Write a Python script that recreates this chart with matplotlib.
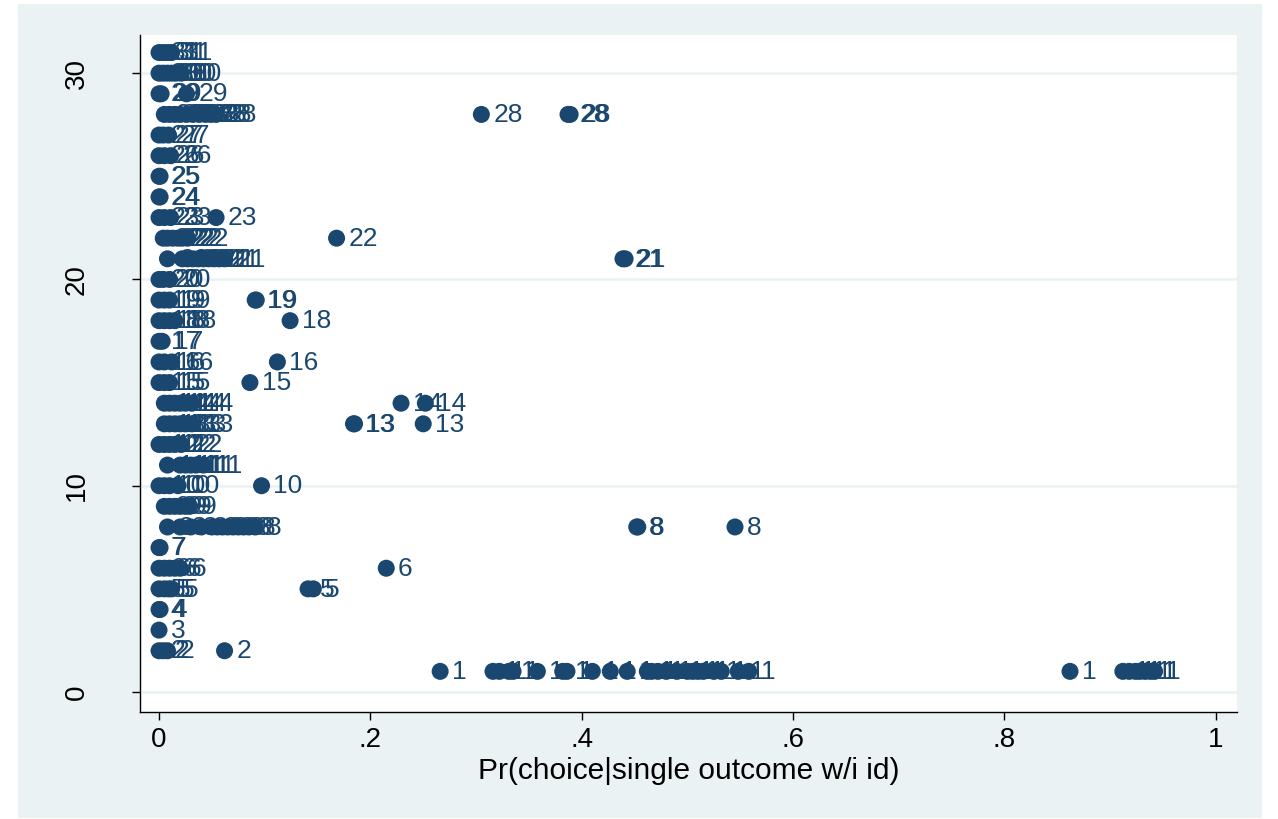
import matplotlib
matplotlib.use("Agg")
import matplotlib.pyplot as plt
from matplotlib.patches import Rectangle

plt.rcParams['font.family'] = ['Liberation Sans', 'DejaVu Sans']

# Pr(choice|single outcome w/i id) values, per id
x_id01 = [0.266, 0.316, 0.322, 0.331, 0.335, 0.358, 0.382, 0.386, 0.41, 0.427, 0.443,
          0.462, 0.466, 0.472, 0.48, 0.49, 0.5, 0.505, 0.51, 0.515, 0.525, 0.532,
          0.548, 0.558, 0.862, 0.912, 0.918, 0.924, 0.928, 0.933, 0.938, 0.942]
x_id02 = [0.0, 0.004, 0.008, 0.062]
x_id03 = [0.0]
x_id04 = [0.0, 0.001]
x_id05 = [0.0, 0.005, 0.009, 0.012, 0.141, 0.146]
x_id06 = [0.0, 0.005, 0.01, 0.015, 0.02, 0.215]
x_id07 = [0.0, 0.001]
x_id08 = [0.008, 0.02, 0.03, 0.04, 0.05, 0.055, 0.06, 0.065, 0.07, 0.075, 0.08,
          0.085, 0.091, 0.452, 0.453, 0.545]
x_id09 = [0.005, 0.01, 0.015, 0.02, 0.025, 0.029]
x_id10 = [0.0, 0.005, 0.01, 0.018, 0.097]
x_id11 = [0.008, 0.02, 0.025, 0.03, 0.035, 0.042]
x_id12 = [0.0, 0.005, 0.01, 0.015, 0.021]
x_id13 = [0.005, 0.01, 0.015, 0.02, 0.025, 0.031, 0.184, 0.185, 0.25]
x_id14 = [0.005, 0.01, 0.015, 0.02, 0.025, 0.031, 0.229, 0.252]
x_id15 = [0.0, 0.005, 0.01, 0.086]
x_id16 = [0.0, 0.005, 0.012, 0.112]
x_id17 = [0.0, 0.003]
x_id18 = [0.0, 0.005, 0.01, 0.015, 0.124]
x_id19 = [0.0, 0.005, 0.01, 0.091, 0.092]
x_id20 = [0.0, 0.004, 0.01]
x_id21 = [0.008, 0.022, 0.027, 0.032, 0.037, 0.042, 0.047, 0.052, 0.057, 0.062,
          0.439, 0.441]
x_id22 = [0.004, 0.008, 0.013, 0.018, 0.022, 0.027, 0.168]
x_id23 = [0.0, 0.005, 0.011, 0.054]
x_id24 = [0.0, 0.001]
x_id25 = [0.0, 0.001]
x_id26 = [0.0, 0.005, 0.011]
x_id27 = [0.0, 0.004, 0.009]
x_id28 = [0.005, 0.01, 0.015, 0.02, 0.026, 0.032, 0.038, 0.044, 0.049, 0.054,
          0.305, 0.387, 0.389]
x_id29 = [0.0, 0.002, 0.026]
x_id30 = [0.0, 0.004, 0.008, 0.012, 0.016, 0.021]
x_id31 = [0.0, 0.004, 0.008, 0.012]

series = [x_id01, x_id02, x_id03, x_id04, x_id05, x_id06, x_id07, x_id08, x_id09,
          x_id10, x_id11, x_id12, x_id13, x_id14, x_id15, x_id16, x_id17, x_id18,
          x_id19, x_id20, x_id21, x_id22, x_id23, x_id24, x_id25, x_id26, x_id27,
          x_id28, x_id29, x_id30, x_id31]

x_ticks = [0, 0.2, 0.4, 0.6, 0.8, 1.0]
x_ticklabels = ["0", ".2", ".4", ".6", ".8", "1"]
y_ticks = [0, 10, 20, 30]
x_label = "Pr(choice|single outcome w/i id)"

navy = "#1a476f"
bg = "#eaf2f3"

W, H = 1278, 819
fig = plt.figure(figsize=(W / 100, H / 100), dpi=100, facecolor="white")
fig.patches.append(Rectangle((18 / W, 1 - 818 / H), (1262 - 18) / W, (818 - 4) / H,
                             transform=fig.transFigure, facecolor=bg, edgecolor="none",
                             zorder=-10))

ax = fig.add_axes([140 / W, 1 - 712 / H, (1237 - 140) / W, (712 - 35) / H])
ax.set_facecolor("white")

for i, xs in enumerate(series):
    idv = i + 1
    ys = [idv] * len(xs)
    ax.scatter(xs, ys, s=150, color=navy, edgecolors="none", zorder=3)
    for xv in xs:
        ax.annotate(str(idv), (xv, idv), xytext=(8.5, -0.5), textcoords="offset points",
                    va="center", ha="left", fontsize=19, color=navy, zorder=4,
                    annotation_clip=False)

ax.set_xlim(-0.018, 1.02)
ax.set_ylim(-0.97, 31.85)

for yv in y_ticks:
    ax.axhline(yv, color=bg, linewidth=1.8, zorder=1)

ax.set_xticks(x_ticks)
ax.set_xticklabels(x_ticklabels)
ax.set_yticks(y_ticks)
ax.set_yticklabels([str(v) for v in y_ticks], rotation=90, va="center")
ax.tick_params(axis="both", labelsize=20, colors="black", length=6, width=1)
ax.tick_params(axis="x", pad=5)
ax.tick_params(axis="y", pad=30)
ax.set_xlabel(x_label, fontsize=21.5, labelpad=3)

for side in ["top", "right"]:
    ax.spines[side].set_visible(False)
for side in ["left", "bottom"]:
    ax.spines[side].set_color("black")
    ax.spines[side].set_linewidth(1)

fig.savefig("out.png", dpi=100, facecolor="white")
